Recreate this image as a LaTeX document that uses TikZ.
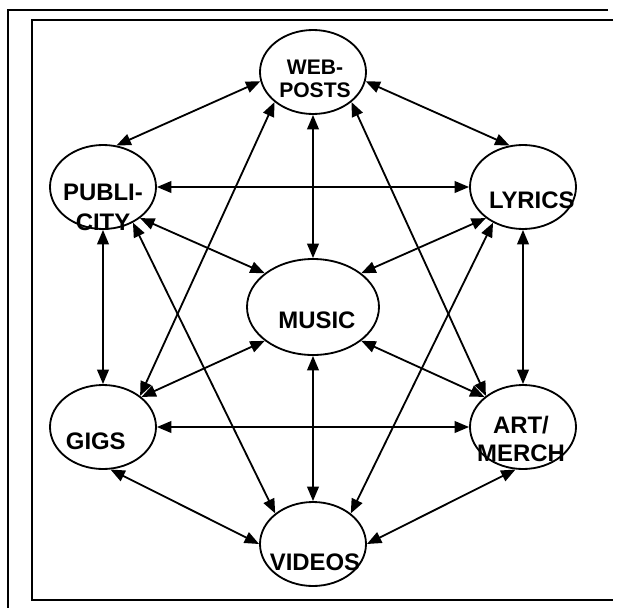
\documentclass[tikz,border=0pt]{standalone}
\usepackage{fontspec}
\setmainfont{Liberation Sans}
\usetikzlibrary{arrows.meta, shapes.geometric}

\begin{document}
\begin{tikzpicture}[
    >={Triangle[length=3.6mm, width=2.9mm]},
    every node/.style={font=\bfseries\fontsize{17}{20.5}\selectfont},
    blob/.style={draw, line width=1.3pt, ellipse, minimum width=26.5mm,
                 minimum height=21mm, inner sep=0pt},
    tag/.style={align=center, inner sep=0pt},
    link/.style={<->, line width=1.3pt},
    rule/.style={line width=1.8pt},
]
  \useasboundingbox (-7.825,-7.525) rectangle (7.875,7.675);
  \draw[rule] (7.375,7.425) -- (-7.625,7.425) -- (-7.625,-7.525);
  \draw[rule] (7.5,7.175) -- (-7.025,7.175) -- (-7.025,-7.325) -- (7.5,-7.325);

  \node[blob] (web) at (0,5.875) {};
  \node[blob] (pub) at (-5.25,3.0) {};
  \node[blob] (lyr) at (5.25,3.0) {};
  \node[blob, minimum width=33mm, minimum height=24mm] (mus) at (0,0) {};
  \node[blob] (gig) at (-5.25,-3.0) {};
  \node[blob] (art) at (5.25,-3.0) {};
  \node[blob] (vid) at (0,-5.925) {};

  \node[tag, font=\bfseries\fontsize{15}{16.6}\selectfont] (web-t)
        at (0.05,5.71) {WEB-\\POSTS};
  \node[tag, font=\bfseries\fontsize{17}{21.3}\selectfont] (pub-t)
        at (-5.25,2.5) {PUBLI-\\CITY};
  \node[tag] (lyr-t) at (5.47,2.67) {LYRICS};
  \node[tag] (mus-t) at (0.1,-0.33) {MUSIC};
  \node[tag] (gig-t) at (-5.43,-3.35) {GIGS};
  \node[tag] (art-t) at (5.2,-3.3) {ART/\\MERCH};
  \node[tag] (vid-t) at (0.05,-6.37) {VIDEOS};

  \draw[link] (web.190) -- (pub.72);
  \draw[link] (web.-10) -- (lyr.108);
  \draw[link] (web.south) -- (mus.north);
  \draw[link] (web.218) -- (gig.40);
  \draw[link] (web.322) -- (art.140);
  \draw[link] (pub.east) -- (lyr.west);
  \draw[link] (pub.320) -- (mus.145);
  \draw[link] (pub.310) -- (vid.141);
  \draw[link] (pub.south) -- (gig.north);
  \draw[link] (lyr.220) -- (mus.35);
  \draw[link] (lyr.230) -- (vid.39);
  \draw[link] (lyr.south) -- (art.north);
  \draw[link] (mus.215) -- (gig.38);
  \draw[link] (mus.325) -- (art.142);
  \draw[link] (mus.south) -- (vid.north);
  \draw[link] (gig.east) -- (art.west);
  \draw[link] (gig.280) -- (vid.west);
  \draw[link] (art.260) -- (vid.east);
\end{tikzpicture}
\end{document}
